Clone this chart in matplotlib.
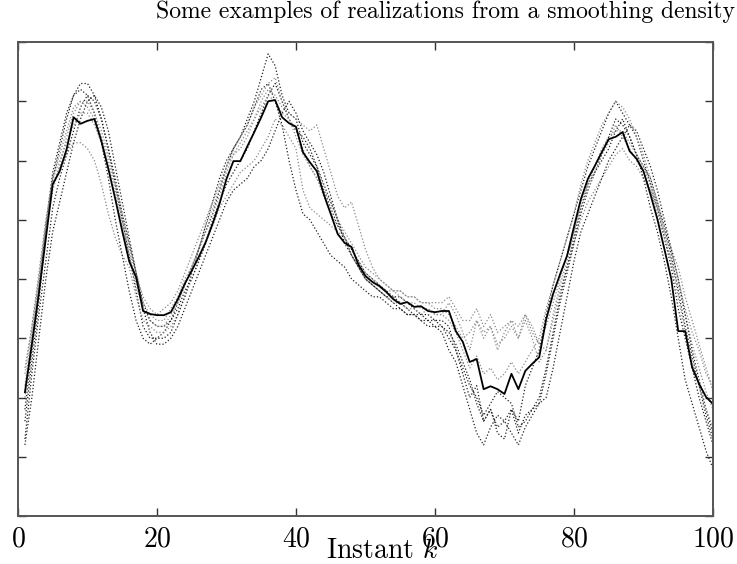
"""Smoothing density realizations"""

import numpy as np
import matplotlib
matplotlib.use('Agg')
import matplotlib.pyplot as plt

plt.rcParams['font.family'] = 'serif'
plt.rcParams['font.serif'] = ['cmr10', 'DejaVu Serif']
plt.rcParams['mathtext.fontset'] = 'cm'
plt.rcParams['axes.formatter.use_mathtext'] = True

# instants k = 1..100
instants = np.arange(1, 101)

# smoothed mean (solid line)
mean_path = [
    -19.1, -11.0, -2.5, 6.8, 16.0, 18.2, 21.9, 27.3, 26.2, 26.7,
    27.0, 23.3, 18.6, 13.5, 8.1, 3.0, 0.3, -5.4, -5.9, -6.1,
    -6.1, -5.6, -3.4, -0.8, 1.4, 3.7, 6.2, 9.3, 12.7, 16.9,
    19.9, 19.9, 22.4, 24.8, 27.3, 30.0, 30.2, 27.3, 26.3, 25.7,
    21.4, 19.7, 18.2, 14.3, 11.0, 7.6, 6.1, 5.4, 2.4, 0.5,
    -0.5, -1.2, -2.2, -3.4, -4.2, -3.9, -4.7, -4.6, -5.4, -5.6,
    -5.4, -5.4, -8.8, -10.6, -14.0, -13.5, -18.6, -18.1, -18.6, -19.4,
    -16.0, -18.6, -15.5, -14.3, -13.2, -6.8, -2.5, 0.8, 3.9, 8.8,
    13.5, 16.9, 19.1, 21.4, 23.6, 24.0, 24.8, 21.6, 20.3, 18.2,
    14.3, 10.1, 5.1, 0.0, -8.8, -8.8, -14.9, -17.7, -19.9, -21.1,
]

real_1 = [
    -24, -14, -4, 8, 17, 22, 27, 31, 33, 33,
    31, 27, 22, 16, 10, 4, -2, -8, -10, -10,
    -9, -7, -4, -1, 2, 5, 8, 11, 15, 19,
    22, 24, 27, 30, 34, 38, 36, 31, 28, 27,
    23, 21, 19, 15, 12, 9, 7, 5, 3, 1,
    0, -1, -2, -3, -3, -4, -5, -6, -6, -7,
    -7, -8, -12, -16, -20, -18, -24, -22, -26, -27,
    -22, -24, -18, -15, -12, -6, -1, 3, 7, 11,
    15, 19, 22, 25, 28, 30, 28, 26, 24, 20,
    16, 12, 7, 2, -5, -10, -15, -20, -24, -28,
]
real_2 = [
    -15, -8, 0, 9, 16, 19, 21, 23, 23, 22,
    20, 16, 11, 7, 4, 2, -3, -7, -8, -9,
    -9, -8, -6, -3, 0, 3, 6, 9, 12, 14,
    16, 18, 19, 20, 22, 24, 27, 26, 24, 22,
    15, 12, 11, 10, 9, 8, 7, 4, 2, 0,
    -1, -2, -3, -4, -4, -5, -5, -6, -5, -6,
    -6, -4, -6, -9, -12, -7, -9, -8, -11, -10,
    -8, -10, -7, -10, -14, -12, -7, -2, 2, 6,
    10, 13, 15, 17, 19, 21, 22, 20, 19, 17,
    15, 12, 8, 5, 0, -5, -9, -12, -16, -18,
]
real_3 = [
    -27, -16, -6, 3, 12, 17, 21, 25, 29, 31,
    30, 27, 22, 17, 11, 6, 1, -4, -7, -8,
    -8, -7, -5, -2, 0, 3, 6, 10, 13, 16,
    18, 20, 22, 25, 28, 31, 33, 30, 27, 25,
    24, 22, 19, 16, 13, 10, 7, 4, 2, 0,
    -1, -2, -3, -3, -4, -5, -6, -6, -7, -7,
    -8, -10, -12, -15, -18, -20, -23, -21, -19, -20,
    -21, -25, -24, -22, -20, -15, -9, -3, 2, 7,
    12, 16, 18, 20, 22, 25, 27, 24, 21, 19,
    17, 13, 9, 4, -2, -8, -13, -18, -23, -27,
]
real_4 = [
    -20, -10, -1, 8, 15, 19, 24, 28, 30, 29,
    27, 24, 20, 15, 10, 5, 0, -4, -6, -7,
    -7, -5, -3, 0, 2, 5, 8, 11, 14, 18,
    21, 23, 25, 27, 30, 32, 31, 29, 28, 27,
    26, 25, 26, 22, 18, 14, 12, 13, 9, 5,
    2, 0, -1, -2, -2, -3, -3, -4, -4, -5,
    -5, -6, -8, -10, -9, -7, -10, -8, -12, -9,
    -7, -10, -6, -9, -11, -8, -4, 0, 4, 8,
    13, 16, 19, 22, 24, 25, 25, 23, 21, 19,
    16, 12, 9, 5, 2, -3, -7, -11, -15, -19,
]
real_5 = [
    -22, -12, -2, 9, 18, 23, 28, 31, 32, 31,
    28, 23, 17, 10, 4, -2, -7, -10, -11, -10,
    -10, -9, -6, -3, 1, 5, 9, 13, 17, 20,
    22, 24, 26, 29, 32, 33, 30, 26, 20, 15,
    11, 10, 8, 6, 4, 3, 2, 0, -1, -2,
    -3, -3, -4, -5, -5, -6, -6, -7, -8, -8,
    -9, -12, -14, -18, -22, -26, -28, -25, -23, -24,
    -26, -28, -25, -23, -21, -16, -10, -4, 1, 6,
    11, 15, 18, 21, 24, 27, 26, 24, 21, 17,
    12, 8, 3, -3, -10, -17, -21, -25, -29, -32,
]
real_6 = [
    -18, -9, 0, 9, 17, 21, 25, 29, 30, 30,
    28, 25, 21, 16, 11, 6, 1, -3, -5, -6,
    -5, -4, -2, 1, 4, 7, 10, 13, 16, 19,
    21, 22, 24, 27, 29, 31, 30, 28, 27, 25,
    22, 19, 17, 15, 13, 10, 8, 6, 4, 2,
    1, 0, -1, -2, -2, -3, -3, -4, -4, -4,
    -4, -3, -5, -7, -7, -5, -8, -6, -9, -8,
    -7, -8, -6, -8, -11, -12, -6, -1, 3, 8,
    12, 15, 18, 21, 23, 26, 24, 22, 20, 18,
    15, 11, 7, 3, -1, -6, -11, -15, -19, -22,
]
real_7 = [
    -28, -20, -10, 0, 8, 13, 18, 23, 27, 30,
    31, 29, 25, 19, 13, 7, 1, -5, -9, -11,
    -11, -10, -8, -5, -2, 1, 4, 7, 10, 13,
    15, 16, 17, 19, 20, 22, 25, 28, 30, 28,
    25, 23, 21, 18, 14, 10, 6, 4, 2, 0,
    -1, -2, -3, -4, -5, -6, -6, -7, -7, -8,
    -8, -9, -11, -14, -17, -21, -24, -22, -25, -24,
    -22, -26, -23, -22, -21, -20, -15, -9, -3, 3,
    8, 11, 14, 17, 20, 22, 24, 26, 25, 22,
    19, 15, 10, 5, 0, -6, -12, -17, -22, -26,
]
real_8 = [
    -16, -8, 1, 10, 17, 20, 23, 26, 28, 28,
    26, 23, 19, 14, 9, 4, -1, -5, -7, -8,
    -8, -6, -4, -1, 2, 5, 9, 12, 15, 19,
    22, 24, 26, 29, 31, 33, 34, 30, 27, 24,
    21, 19, 17, 14, 11, 9, 7, 5, 3, 1,
    0, -1, -2, -2, -3, -4, -4, -5, -5, -6,
    -6, -7, -9, -12, -15, -13, -16, -15, -17, -16,
    -14, -16, -14, -12, -10, -5, -1, 3, 7, 11,
    16, 20, 23, 26, 28, 30, 29, 27, 24, 21,
    17, 13, 8, 3, -3, -9, -14, -18, -22, -25,
]

realizations = [real_1, real_2, real_3, real_4, real_5, real_6, real_7, real_8]
shades = ['#222222', '#8a8a8a', '#222222', '#8a8a8a', '#222222', '#8a8a8a', '#222222', '#8a8a8a']

xticks = [0, 20, 40, 60, 80, 100]
yticks = [-40, -30, -20, -10, 0, 10, 20, 30, 40]

fig = plt.figure(figsize=(7.37, 5.64), dpi=100)
ax = fig.add_axes([0.0244, 0.0851, 0.9430, 0.8404])

for path, shade in zip(realizations, shades):
    ax.plot(instants, path, linestyle=':', color=shade, linewidth=0.9)
ax.plot(instants, mean_path, color='black', linewidth=1.3)

ax.set_xlim(0, 100)
ax.set_ylim(-40, 40)
ax.set_xticks(xticks)
ax.set_yticks(yticks)
ax.set_yticklabels([])
ax.tick_params(direction='in', length=6, width=1, top=True, right=True,
               labelsize=20, pad=7, color='#333333')
for spine in ax.spines.values():
    spine.set_color('#555555')
    spine.set_linewidth(1.4)

# label sits low and slightly right, over the "60" tick label as in the source
ax.set_xlabel('Instant $k$', fontsize=20)
ax.xaxis.set_label_coords(0.524, -0.045, transform=ax.transAxes)
ax.xaxis.label.set_va('top')
fig.text(0.997, 0.979, 'Some examples of realizations from a smoothing density',
         ha='right', va='center', fontsize=17)

plt.savefig('out.png', dpi=100)
